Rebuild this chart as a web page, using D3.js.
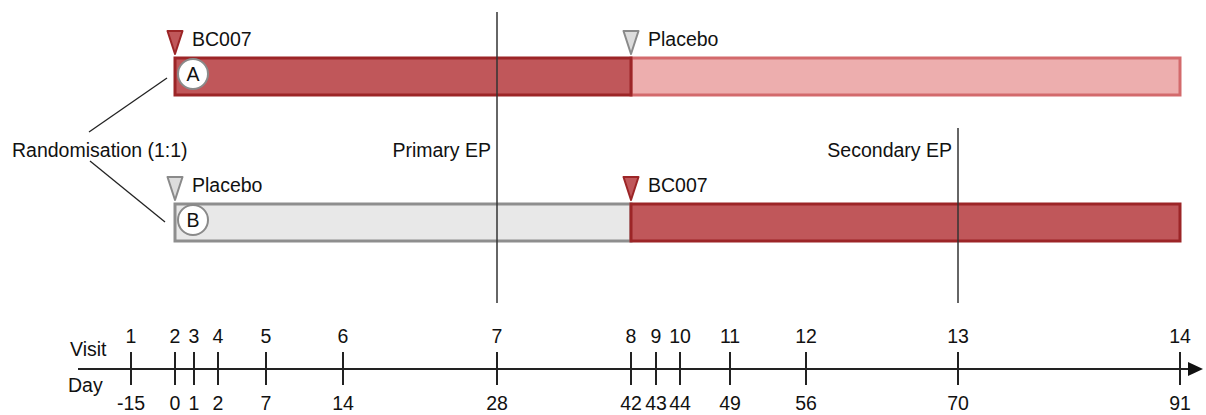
<!DOCTYPE html>
<html><head><meta charset="utf-8">
<script src="https://cdn.jsdelivr.net/npm/d3@7"></script>
<style>html,body{margin:0;padding:0;background:#fff}svg{display:block;font-family:"Liberation Sans",Arial,sans-serif}</style>
</head><body>
<svg id="c" width="1206" height="415"></svg>
<script>
// ---- data ----
const visits = [1,2,3,4,5,6,7,8,9,10,11,12,13,14];
const days   = [-15,0,1,2,7,14,28,42,43,44,49,56,70,91];
const armA = [{treat:"BC007", start:0, end:42}, {treat:"Placebo", start:42, end:91}];
const armB = [{treat:"Placebo", start:0, end:42}, {treat:"BC007", start:42, end:91}];
const arms = [{name:"A", segs:armA}, {name:"B", segs:armB}];
const endpoints = [{label:"Primary EP", day:28}, {label:"Secondary EP", day:70}];

// ---- layout (schematic, non-linear day axis) ----
const xStops = [131,175,194,218,266,343,497,631,656,680,730,806,958,1180];
const x = d3.scaleLinear().domain(days).range(xStops);
const armY = d3.scaleOrdinal().domain(["A","B"]).range([58,204]);
const barH = 37;
const style = {
  BC007:   {fill:"#c0575a", stroke:"#9c2527"},
  Placebo: {fill:"#e8e8e8", stroke:"#8e8e8e"},
  PlaceboA:{fill:"#edaeae", stroke:"#d36a6c"}
};
const svg = d3.select("#c");
const FS = 19.5;

arms.forEach(arm => {
  const y0 = armY(arm.name);
  arm.segs.slice().sort((a,b)=> (a.treat==="BC007")-(b.treat==="BC007")).forEach(s => {
    let st = style[s.treat];
    if (arm.name==="A" && s.treat==="Placebo") st = style.PlaceboA;
    svg.append("rect")
      .attr("x", x(s.start)).attr("y", y0)
      .attr("width", x(s.end)-x(s.start)).attr("height", barH)
      .attr("fill", st.fill).attr("stroke", st.stroke).attr("stroke-width", 3);
  });
  arm.segs.forEach(s => {
    const st = s.treat==="BC007" ? style.BC007 : {fill:"#dcdcdc", stroke:"#8a8a8a"};
    const tx = x(s.start), ty = y0 - 4;
    svg.append("path")
      .attr("d", `M${tx-7.5},${ty-23}L${tx+7.5},${ty-23}L${tx},${ty}Z`)
      .attr("fill", st.fill).attr("stroke", st.stroke).attr("stroke-width", 2)
      .attr("stroke-linejoin","round");
    svg.append("text").attr("x", tx+17).attr("y", ty-8)
      .attr("font-size", FS).attr("fill", "#111").text(s.treat);
  });
  svg.append("circle").attr("cx", x(0)+18).attr("cy", y0+16).attr("r", 15)
    .attr("fill", "#fff").attr("stroke", "#8a8a8a").attr("stroke-width", 2);
  svg.append("text").attr("x", x(0)+18).attr("y", y0+23).attr("text-anchor","middle")
    .attr("font-size", FS).attr("fill","#111").text(arm.name);
});

endpoints.forEach((e,i) => {
  const xx = x(e.day);
  svg.append("line").attr("x1", xx).attr("x2", xx)
    .attr("y1", i===0 ? 12 : 128).attr("y2", 303)
    .attr("stroke", "#333").attr("stroke-width", 1.5);
  svg.append("text").attr("x", xx-6).attr("y", 157).attr("text-anchor","end")
    .attr("font-size", FS).attr("fill","#111").text(e.label);
});

svg.append("text").attr("x", 12).attr("y", 157).attr("font-size", FS).attr("fill","#111")
  .text("Randomisation (1:1)");
svg.append("line").attr("x1", 89).attr("y1", 132).attr("x2", 167).attr("y2", 78)
  .attr("stroke","#222").attr("stroke-width",1.3);
svg.append("line").attr("x1", 90).attr("y1", 161).attr("x2", 165).attr("y2", 222)
  .attr("stroke","#222").attr("stroke-width",1.3);

const axY = 369;
svg.append("line").attr("x1", 78).attr("x2", 1192).attr("y1", axY).attr("y2", axY)
  .attr("stroke","#222").attr("stroke-width",2);
svg.append("path").attr("d", `M1188,${axY-7}L1203,${axY}L1188,${axY+7}Z`).attr("fill","#111");
const ax = d3.axisBottom(x).tickValues(days).tickSize(0).tickFormat("");
svg.append("g").attr("transform",`translate(0,${axY})`).call(ax).call(g=>g.select(".domain").remove());
days.forEach((d,i) => {
  svg.append("line").attr("x1", x(d)).attr("x2", x(d)).attr("y1", 352).attr("y2", 385)
    .attr("stroke","#222").attr("stroke-width",2);
  svg.append("text").attr("x", x(d)).attr("y", 343).attr("text-anchor","middle")
    .attr("font-size", FS).attr("fill","#111").text(visits[i]);
  svg.append("text").attr("x", x(d)).attr("y", 410).attr("text-anchor","middle")
    .attr("font-size", FS).attr("fill","#111").text(d);
});
svg.append("text").attr("x", 70).attr("y", 356).attr("font-size", FS).attr("fill","#111").text("Visit");
svg.append("text").attr("x", 68).attr("y", 392).attr("font-size", FS).attr("fill","#111").text("Day");
</script>
</body></html>
